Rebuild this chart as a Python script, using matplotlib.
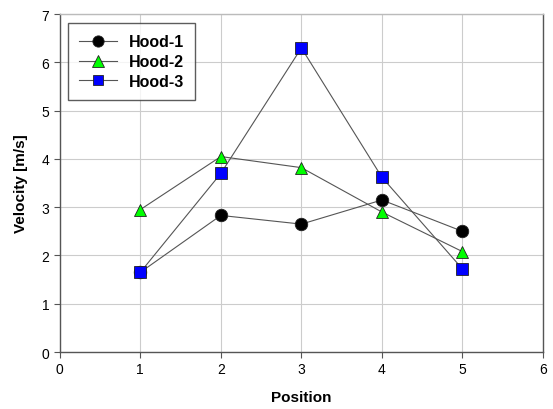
import matplotlib
matplotlib.use('Agg')
import matplotlib.pyplot as plt

# Data
positions = [1, 2, 3, 4, 5]
hood_1 = [1.65, 2.83, 2.65, 3.15, 2.50]
hood_2 = [2.95, 4.05, 3.82, 2.90, 2.08]
hood_3 = [1.65, 3.70, 6.30, 3.62, 1.72]

plt.rcParams['font.family'] = ['Liberation Sans', 'DejaVu Sans']

fig = plt.figure(figsize=(5.53, 4.10), dpi=100)
ax = fig.add_axes([0.108, 0.139, 0.874, 0.824])

line_kw = dict(color='#555555', linewidth=0.8, markeredgecolor='#222222', markeredgewidth=0.6)
ax.plot(positions, hood_1, marker='o', markersize=9, markerfacecolor='black', label='Hood-1', zorder=3, **line_kw)
ax.plot(positions, hood_2, marker='^', markersize=9, markerfacecolor='#00ff00', label='Hood-2', zorder=3, **line_kw)
ax.plot(positions, hood_3, marker='s', markersize=8, markerfacecolor='#0000ff', label='Hood-3', zorder=3, **line_kw)

ax.set_xlim(0, 6)
ax.set_ylim(0, 7)
ax.set_xticks(range(0, 7))
ax.set_yticks(range(0, 8))
ax.grid(True, color='#cccccc', linewidth=0.8)
ax.set_axisbelow(True)

for side in ['left', 'bottom', 'top', 'right']:
    ax.spines[side].set_color('#555555')
    ax.spines[side].set_linewidth(1.0)
ax.spines['top'].set_color('#bbbbbb')

ax.tick_params(direction='out', length=4, width=0.8, colors='#555555', labelcolor='black', labelsize=10)

ax.set_xlabel('Position', fontsize=11, fontweight='bold', labelpad=10)
ax.set_ylabel('Velocity [m/s]', fontsize=11, fontweight='bold', labelpad=10)

leg = ax.legend(loc='upper left', bbox_to_anchor=(0.017, 0.973), borderaxespad=0,
                frameon=True, fancybox=False, edgecolor='#333333', handlelength=2.4,
                borderpad=0.7, labelspacing=0.3, markerscale=0.9, handletextpad=0.7,
                prop={'weight': 'bold', 'size': 11.5})
leg.get_frame().set_linewidth(1.0)

fig.savefig('out.png', dpi=100)
